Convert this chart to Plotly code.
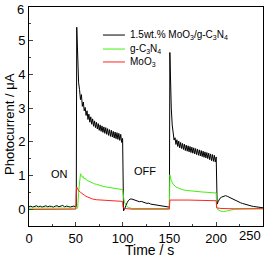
import plotly.graph_objects as go

# ---- data ----
t_black = [0, 2, 4, 6, 8, 10, 12, 14, 16, 18, 20, 22, 24, 26, 28, 30, 32, 34, 36, 38, 40, 42, 44, 46, 48, 50,
           50.5, 51, 52, 53, 54, 55, 56, 57, 58, 59, 60, 61, 62, 63, 64, 65, 66, 67, 68, 69, 70, 71, 72, 73, 74,
           75, 76, 77, 78, 79, 80, 81, 82, 83, 84, 85, 86, 87, 88, 89, 90, 91, 92, 93, 94, 95, 96, 97, 98, 99, 100,
           100.5, 101, 102, 103, 104, 105, 106, 107, 108, 110, 112, 114, 116, 118, 120, 122, 124, 126, 128, 130,
           132, 134, 136, 138, 140, 142, 144, 146, 148, 150,
           150.5, 151, 152, 153, 154, 155, 156, 157, 158, 159, 160, 161, 162, 163, 164, 165, 166, 167, 168, 169,
           170, 171, 172, 173, 174, 175, 176, 177, 178, 179, 180, 181, 182, 183, 184, 185, 186, 187, 188, 189,
           190, 191, 192, 193, 194, 195, 196, 197, 198, 199, 200,
           200.5, 201, 202, 203, 204, 206, 208, 210, 212, 214, 216, 218, 220, 222, 224, 226, 228, 230, 232, 234,
           236, 238, 240, 242, 244, 246, 248, 250]
i_black = [0.07, 0.09, 0.06, 0.08, 0.10, 0.07, 0.09, 0.06, 0.08, 0.10, 0.07, 0.09, 0.08, 0.06, 0.09, 0.10, 0.07,
           0.08, 0.11, 0.07, 0.09, 0.08, 0.06, 0.08, 0.09, 0.07,
           0.08, 5.40, 4.30, 3.75, 3.55, 3.25, 3.40, 3.05, 3.18, 2.92, 3.02, 2.78, 2.92, 2.66, 2.82, 2.58, 2.74,
           2.52, 2.68, 2.46, 2.62, 2.42, 2.58, 2.38, 2.54, 2.34, 2.50, 2.31, 2.47, 2.28, 2.44, 2.25, 2.42, 2.22,
           2.39, 2.19, 2.36, 2.16, 2.34, 2.14, 2.31, 2.11, 2.29, 2.09, 2.27, 2.07, 2.25, 2.04, 2.22, 1.98, 2.10,
           -0.05, -0.05, 0.00, 0.08, 0.15, 0.20, 0.25, 0.28, 0.30, 0.30, 0.28, 0.27, 0.25, 0.22, 0.23, 0.20, 0.19,
           0.17, 0.18, 0.15, 0.14, 0.12, 0.13, 0.10, 0.09, 0.10, 0.07, 0.08, 0.06, 0.06,
           4.65, 3.80, 3.00, 2.50, 2.20, 2.05, 2.12, 1.92, 2.06, 1.86, 2.02, 1.82, 1.98, 1.80, 1.95, 1.77, 1.93,
           1.74, 1.90, 1.72, 1.88, 1.70, 1.86, 1.68, 1.84, 1.66, 1.82, 1.64, 1.80, 1.62, 1.78, 1.60, 1.76, 1.58,
           1.74, 1.56, 1.72, 1.54, 1.70, 1.52, 1.68, 1.50, 1.66, 1.47, 1.64, 1.44, 1.62, 1.42, 1.60, 1.40, 1.55,
           0.15, 0.15, 0.22, 0.28, 0.32, 0.36, 0.39, 0.40, 0.38, 0.35, 0.32, 0.29, 0.26, 0.23, 0.21, 0.19, 0.17,
           0.15, 0.13, 0.12, 0.10, 0.09, 0.08, 0.07, 0.06, 0.05, 0.04, 0.04]

t_green = [0, 10, 20, 30, 40, 50, 52, 53, 54, 55, 56, 57, 58, 59, 60, 62, 64, 66, 68, 70, 72, 74, 76, 78, 80,
           84, 88, 92, 96, 100, 101, 102, 104, 106, 110, 120, 130, 140, 150,
           150.5, 151, 152, 154, 157, 160, 165, 170, 175, 180, 185, 190, 195, 200,
           200.5, 202, 205, 208, 212, 216, 220, 230, 240, 250]
i_green = [0.03, 0.03, 0.02, 0.03, 0.02, 0.03, 0.03, 0.50, 0.90, 1.05, 1.00, 0.95, 0.97, 0.90, 0.92, 0.85,
           0.83, 0.80, 0.78, 0.75, 0.74, 0.72, 0.70, 0.69, 0.67, 0.65, 0.63, 0.61, 0.60, 0.58, 0.35, 0.20, 0.10,
           0.05, 0.02, 0.02, 0.02, 0.02, 0.02,
           1.02, 0.95, 0.85, 0.74, 0.66, 0.62, 0.57, 0.55, 0.53, 0.52, 0.51, 0.50, 0.49, 0.48,
           0.05, -0.02, -0.06, -0.07, -0.05, -0.02, 0.00, 0.01, 0.02, 0.02]

t_red = [0, 10, 20, 30, 40, 50, 50.5, 51, 52, 53, 55, 57, 59, 61, 63, 65, 68, 72, 76, 80, 85, 90, 95, 100,
         100.5, 102, 110, 120, 130, 140, 150,
         150.5, 155, 160, 170, 180, 190, 200,
         200.5, 205, 220, 235, 250]
i_red = [-0.01, -0.01, -0.01, -0.01, -0.01, 0.00, 0.55, 0.65, 0.60, 0.55, 0.50, 0.45, 0.42, 0.38, 0.35, 0.33,
         0.30, 0.28, 0.27, 0.26, 0.25, 0.24, 0.23, 0.23,
         0.05, 0.02, 0.00, 0.00, 0.00, 0.00, 0.00,
         0.27, 0.28, 0.27, 0.27, 0.26, 0.26, 0.25,
         0.04, 0.02, 0.01, 0.01, 0.01]

names = ["1.5wt.% MoO<sub>3</sub>/g-C<sub>3</sub>N<sub>4</sub>", "g-C<sub>3</sub>N<sub>4</sub>", "MoO<sub>3</sub>"]
colors = ["#000000", "#44ee11", "#ff2222"]

x_ticks = [0, 50, 100, 150, 200, 250]
x_ticktext = ["0", "50", "100", "150", "200", ""]
x_last_label = "250"
y_ticks = [0, 1, 2, 3, 4, 5, 6]
y_ticktext = ["0", "1", "2", "3", "4", "5", ""]
y_last_label = "6"

FONT = "Arial, Liberation Sans, sans-serif"

fig = go.Figure()
for t, v, nm, c in [(t_black, i_black, names[0], colors[0]),
                    (t_green, i_green, names[1], colors[1]),
                    (t_red, i_red, names[2], colors[2])]:
    fig.add_trace(go.Scatter(x=t, y=v, mode="lines", name=nm, showlegend=False,
                             line=dict(color=c, width=1)))

# manual legend (paper coordinates)
leg_y = [0.872, 0.808, 0.749]
for nm, c, ly in zip(names, colors, leg_y):
    fig.add_shape(type="line", xref="paper", yref="paper", x0=0.316, x1=0.41, y0=ly, y1=ly,
                  line=dict(color=c, width=1))
    fig.add_annotation(xref="paper", yref="paper", x=0.423, y=ly, xanchor="left", yanchor="middle",
                       text=nm, showarrow=False, font=dict(size=10, color="black", family=FONT))

fig.add_annotation(x=33, y=1.05, text="ON", showarrow=False, font=dict(size=11, color="black"))
fig.add_annotation(x=124, y=1.12, text="OFF", showarrow=False, font=dict(size=11, color="black"))

# end tick labels, kept inside the picture like the reference
fig.add_annotation(xref="paper", x=1.0, yref="paper", y=(226 - 235) / 219, xanchor="right",
                   yanchor="middle", text=x_last_label, showarrow=False,
                   font=dict(size=13, color="black", family=FONT))
fig.add_annotation(xref="paper", x=(26 - 29) / 234, yref="paper", y=(226 - 9) / 219, xanchor="right",
                   yanchor="middle", text=y_last_label, showarrow=False,
                   font=dict(size=13, color="black", family=FONT))

# axis titles as annotations
fig.add_annotation(xref="paper", yref="paper", x=(149 - 29) / 234, y=(226 - 250) / 219,
                   xanchor="center", yanchor="middle", text="Time / s", showarrow=False,
                   font=dict(size=14, color="black", family=FONT))
fig.add_annotation(xref="paper", yref="paper", x=(9 - 29) / 234, y=(226 - 124) / 219,
                   xanchor="center", yanchor="middle", text="Photocurrent / μA", textangle=-90,
                   showarrow=False, font=dict(size=13, color="black", family=FONT))

fig.update_layout(
    width=274, height=257,
    margin=dict(l=29, r=11, t=7, b=31, autoexpand=False),
    paper_bgcolor="white", plot_bgcolor="white",
    font=dict(family=FONT, size=12, color="black"),
    showlegend=False,
    xaxis=dict(range=[0, 250], tickvals=x_ticks, ticktext=x_ticktext, ticks="inside", ticklen=4,
               minor=dict(ticks="inside", ticklen=2, dtick=25),
               showline=True, linecolor="black", linewidth=1, mirror=True,
               showgrid=False, zeroline=False, automargin=False, ticklabeloverflow="allow",
               tickfont=dict(size=13)),
    yaxis=dict(range=[-0.5, 6], tickvals=y_ticks, ticktext=y_ticktext, ticks="inside", ticklen=4,
               minor=dict(ticks="inside", ticklen=2, dtick=0.5),
               showline=True, linecolor="black", linewidth=1, mirror=True,
               showgrid=False, zeroline=False, automargin=False, ticklabeloverflow="allow",
               tickfont=dict(size=13)),
)

fig.write_html("out.html", config={"displayModeBar": False},
               post_script="document.body.style.margin='0';document.body.style.overflow='hidden';")
